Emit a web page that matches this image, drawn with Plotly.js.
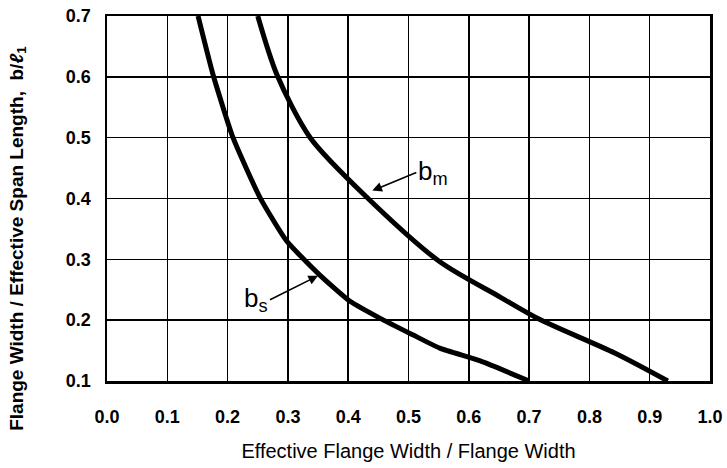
<!DOCTYPE html>
<html>
<head>
<meta charset="utf-8">
<script src="https://cdn.plot.ly/plotly-3.0.1.min.js"></script>
<style>html,body{margin:0;padding:0;background:#fff;}#chart{width:727px;height:468px;}</style>
</head>
<body>
<div id="chart"></div>
<script>
// b_s curve (effective flange width ratio vs flange width / span ratio)
const bsX = [0.151, 0.176, 0.209, 0.254, 0.298, 0.353, 0.403, 0.453, 0.507, 0.552, 0.619, 0.700];
const bsY = [0.700, 0.603, 0.500, 0.401, 0.330, 0.274, 0.231, 0.203, 0.176, 0.154, 0.133, 0.100];
// b_m curve
const bmX = [0.250, 0.282, 0.337, 0.433, 0.552, 0.652, 0.718, 0.842, 0.930];
const bmY = [0.700, 0.603, 0.500, 0.400, 0.296, 0.238, 0.201, 0.146, 0.100];
const xTicks = [0.0, 0.1, 0.2, 0.3, 0.4, 0.5, 0.6, 0.7, 0.8, 0.9, 1.0];
const xTickText = ["0.0", "0.1", "0.2", "0.3", "0.4", "0.5", "0.6", "0.7", "0.8", "0.9", "1.0"];
const yTicks = [0.1, 0.2, 0.3, 0.4, 0.5, 0.6, 0.7];
const yTickText = ["0.1", "0.2", "0.3", "0.4", "0.5", "0.6", "0.7"];

const font = "Liberation Sans, Arial, sans-serif";

const traces = [
  {x: bsX, y: bsY, mode: "lines", line: {color: "#000", width: 5, shape: "spline", smoothing: 0.5}, name: "b_s", hoverinfo: "skip"},
  {x: bmX, y: bmY, mode: "lines", line: {color: "#000", width: 5, shape: "spline", smoothing: 0.8}, name: "b_m", hoverinfo: "skip"}
];

const layout = {
  width: 727, height: 468,
  margin: {l: 107, r: 17, t: 16, b: 87},
  paper_bgcolor: "#fff", plot_bgcolor: "#fff",
  showlegend: false,
  font: {family: font, color: "#000"},
  xaxis: {
    range: [0, 1], tickvals: xTicks, ticktext: xTickText,
    showgrid: true, gridcolor: "#000", gridwidth: 1.5,
    showline: true, linecolor: "#000", linewidth: 2.5, mirror: true,
    zeroline: false, ticks: "", ticklabelstandoff: 18,
    tickfont: {family: font, size: 18, color: "#000", weight: "bold"},
    title: {text: "Effective Flange Width / Flange Width", font: {family: font, size: 20, color: "#000"}, standoff: 18}
  },
  yaxis: {
    range: [0.1, 0.7], tickvals: yTicks, ticktext: yTickText,
    showgrid: true, gridcolor: "#000", gridwidth: 1.5,
    showline: true, linecolor: "#000", linewidth: 2.5, mirror: true,
    zeroline: false, ticks: "", ticklabelstandoff: 10,
    tickfont: {family: font, size: 18, color: "#000", weight: "bold"}
  },
  annotations: [
    {xref: "paper", yref: "paper", x: -0.149, y: 0.39, xanchor: "center", yanchor: "middle",
     text: "Flange Width / Effective Span Length,  b/<i>ℓ</i><sub>1</sub>", textangle: -90, showarrow: false,
     font: {family: font, size: 19, color: "#000", weight: "bold"}},
    {x: 0.44, y: 0.413, xref: "x", yref: "y", text: "b<sub>m</sub>", showarrow: true,
     ax: 44, ay: -18, arrowhead: 2, arrowsize: 1.2, arrowwidth: 1.6, arrowcolor: "#000",
     font: {family: font, size: 26, color: "#000"}, xanchor: "left", yanchor: "middle"},
    {x: 0.35, y: 0.273, xref: "x", yref: "y", text: "b<sub>s</sub>", showarrow: true,
     ax: -48, ay: 24, arrowhead: 2, arrowsize: 1.2, arrowwidth: 1.6, arrowcolor: "#000",
     font: {family: font, size: 26, color: "#000"}, xanchor: "right", yanchor: "middle"}
  ]
};

Plotly.newPlot("chart", traces, layout, {staticPlot: true, displayModeBar: false});
</script>
</body>
</html>
